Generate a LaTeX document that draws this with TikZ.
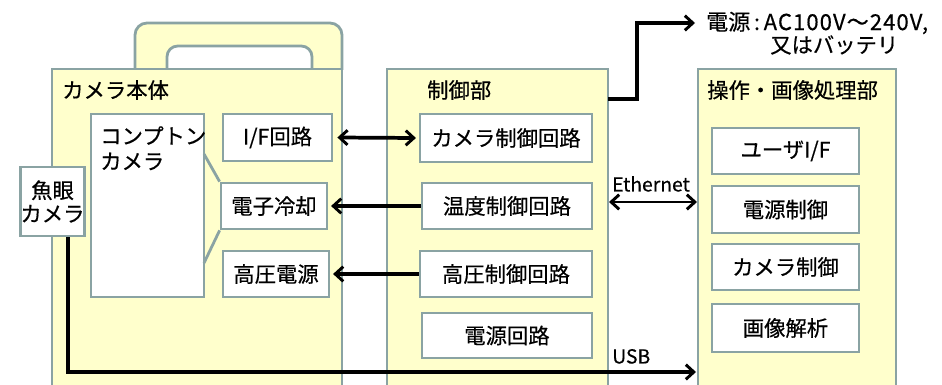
\documentclass[tikz,border=0pt]{standalone}
\usepackage{fontspec}
\setmainfont{Noto Sans CJK JP}[FakeBold=0.5]
\usetikzlibrary{arrows.meta}
\definecolor{bfill}{HTML}{FFFFCC}
\definecolor{bline}{HTML}{8AA3A3}
\tikzset{
  px/.style={x=0.75pt,y=-0.75pt},
  bigbox/.style={draw=bline,fill=bfill,line width=2.1pt},
  inbox/.style={draw=bline,fill=white,line width=2.1pt,inner sep=0pt,font=\fontsize{16pt}{19pt}\selectfont},
  wire/.style={line width=2.8pt,black},
  tip/.style={-{Straight Barb[length=6pt,width=11pt,line width=2.2pt]}},
  tips/.style={{Straight Barb[length=6pt,width=11pt,line width=2.2pt]}-{Straight Barb[length=6pt,width=11pt,line width=2.2pt]}},
  lbl/.style={font=\fontsize{16pt}{19pt}\selectfont,inner sep=0pt},
  small/.style={font=\fontsize{14.5pt}{17pt}\selectfont,inner sep=0pt}
}
\newcommand{\pbox}[6]{\node[inbox,minimum width={(#4-#2)*0.75pt},minimum height={(#5-#3)*0.75pt}] (#1) at ({(#2+#4)/2},{(#3+#5)/2}) {#6};}
\begin{document}
\begin{tikzpicture}[px]
\useasboundingbox (0,0) rectangle (942,385);
\clip (0,0) rectangle (942,385);
% handle
\draw[bigbox,rounded corners=9pt] (135,70) -- (135,23) -- (342,23) -- (342,70);
\draw[bigbox,fill=white,rounded corners=8pt] (167,70) -- (167,46) -- (312,46) -- (312,70);
% big boxes
\draw[bigbox] (52,69) rectangle (342,400);
\node[lbl,anchor=west] (camlbl) at (62,90) {カメラ本体};
\draw[bigbox] (387,69) rectangle (608,400);
\coordinate (ctlR) at (608,99);
\node[lbl,anchor=west] (ctllbl) at (427,90) {制御部};
\draw[bigbox] (698,69) rectangle (896,400);
\node[lbl,anchor=west] (oplbl) at (707,90) {操作・画像処理部};
% compton camera box with callout
\draw[bigbox,fill=white] (91,114) rectangle (204,297);
\node[lbl,anchor=north west,align=left] (compton) at (100,126) {コンプトン\\カメラ};
\pbox{ifc}{223}{114}{332}{161}{I/F回路}
\pbox{cool}{221}{183}{327}{229}{電子冷却}
\pbox{hv}{223}{251}{329}{297}{高圧電源}
\draw[bline,line width=2.1pt] (204,154) -- (cool.north west);
\draw[bline,line width=2.1pt] (cool.south west) -- (204,263);
% fisheye
\node[inbox,minimum width={61*0.75pt},minimum height={69*0.75pt},align=center,font=\fontsize{16pt}{17.5pt}\selectfont] (fish) at (52.5,201.5) {魚眼\\カメラ};
% control
\pbox{camctl}{420}{114}{592}{162}{カメラ制御回路}
\pbox{tmpctl}{422}{183}{592}{229}{温度制御回路}
\pbox{hvctl}{420}{251}{592}{297}{高圧制御回路}
\pbox{pwr}{422}{313}{592}{358}{電源回路}
% operation
\pbox{uif}{712}{128}{859}{174}{ユーザI/F}
\pbox{pctl}{712}{186}{859}{233}{電源制御}
\pbox{cctl}{712}{244}{859}{290}{カメラ制御}
\pbox{ana}{712}{304}{859}{352}{画像解析}
% arrows
\draw[wire,tips] ([xshift=3pt]ifc.east) -- ([xshift=-2pt]camctl.west);
\draw[wire,tip] (tmpctl.west) -- ([xshift=2pt]cool.east);
\draw[wire,tip] (hvctl.west) -- ([xshift=2pt]hv.east);
\coordinate (ethL) at (609,202);
\coordinate (ethR) at (697,202);
\draw[wire,tips,line width=2.2pt] (ethL) -- (ethR);
\node[small,anchor=south] (eth) at (651,192) {Ethernet};
% power
\coordinate (pw1) at (637,99);
\coordinate (pw2) at (637,23);
\coordinate (pwend) at (695,23);
\draw[wire,tip] (ctlR) -- (pw1) -- (pw2) -- (pwend);
\node[lbl,anchor=west,font=\fontsize{16.5pt}{19pt}\selectfont] (pwlbl1) at (706,23) {電源\,:\,{\addfontfeatures{LetterSpace=5}AC100V～240V,}};
\node[lbl,anchor=west] (pwlbl2) at (770,45) {又はバッテリ};
% USB
\coordinate (usb1) at (68,372);
\coordinate (usbend) at (696,372);
\draw[wire,tip] (fish.south -| usb1) -- (usb1) -- (usbend);
\node[small,anchor=south west] (usb) at (612,364) {USB};
\end{tikzpicture}
\end{document}
